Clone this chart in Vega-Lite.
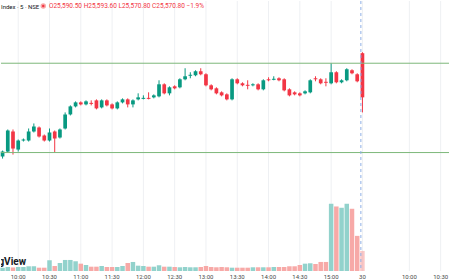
{
  "$schema": "https://vega.github.io/schema/vega-lite/v6.json",
  "width": 450,
  "height": 280,
  "autosize": {"type": "fit", "contains": "padding"},
  "padding": 0,
  "background": "white",
  "config": {
    "view": {"stroke": null},
    "font": "Roboto"
  },
  "title": {"text": "Index · 5 · NSE", "anchor": "start", "frame": "group", "fontSize": 6, "fontWeight": "normal", "color": "#131722", "offset": -9},
  "datasets": {
    "bars": [
      {"t": "09:45", "i": 0, "o": 25487.5, "h": 25493.5, "l": 25485.5, "c": 25492.5, "v": 33},
      {"t": "09:50", "i": 1, "o": 25492.5, "h": 25514.5, "l": 25491.5, "c": 25513.5, "v": 40},
      {"t": "09:55", "i": 2, "o": 25512.5, "h": 25514.5, "l": 25489.5, "c": 25495.5, "v": 35},
      {"t": "10:00", "i": 3, "o": 25494.5, "h": 25504.5, "l": 25492.5, "c": 25503.5, "v": 40},
      {"t": "10:05", "i": 4, "o": 25503.5, "h": 25505.5, "l": 25502.5, "c": 25504.5, "v": 40},
      {"t": "10:10", "i": 5, "o": 25503.5, "h": 25515.5, "l": 25502.5, "c": 25512.5, "v": 47},
      {"t": "10:15", "i": 6, "o": 25512.5, "h": 25520.5, "l": 25511.5, "c": 25517.5, "v": 47},
      {"t": "10:20", "i": 7, "o": 25516.5, "h": 25517.5, "l": 25506.5, "c": 25507.5, "v": 33},
      {"t": "10:25", "i": 8, "o": 25508.5, "h": 25509.5, "l": 25502.5, "c": 25503.5, "v": 33},
      {"t": "10:30", "i": 9, "o": 25503.5, "h": 25515.5, "l": 25502.5, "c": 25511.5, "v": 107},
      {"t": "10:35", "i": 10, "o": 25512.5, "h": 25513.5, "l": 25491.5, "c": 25505.5, "v": 50},
      {"t": "10:40", "i": 11, "o": 25506.5, "h": 25515.5, "l": 25505.5, "c": 25514.5, "v": 80},
      {"t": "10:45", "i": 12, "o": 25515.5, "h": 25531.5, "l": 25514.5, "c": 25529.5, "v": 110},
      {"t": "10:50", "i": 13, "o": 25529.5, "h": 25538.5, "l": 25528.5, "c": 25537.5, "v": 110},
      {"t": "10:55", "i": 14, "o": 25537.5, "h": 25542.5, "l": 25536.5, "c": 25541.5, "v": 97},
      {"t": "11:00", "i": 15, "o": 25541.5, "h": 25542.5, "l": 25538.5, "c": 25539.5, "v": 73},
      {"t": "11:05", "i": 16, "o": 25539.5, "h": 25543.5, "l": 25538.5, "c": 25542.5, "v": 60},
      {"t": "11:10", "i": 17, "o": 25541, "h": 25543.5, "l": 25538.5, "c": 25540, "v": 43},
      {"t": "11:15", "i": 18, "o": 25543.5, "h": 25544.5, "l": 25534.5, "c": 25535.5, "v": 43},
      {"t": "11:20", "i": 19, "o": 25536.5, "h": 25544.5, "l": 25535.5, "c": 25543.5, "v": 50},
      {"t": "11:25", "i": 20, "o": 25543.5, "h": 25544.5, "l": 25537.5, "c": 25538.5, "v": 40},
      {"t": "11:30", "i": 21, "o": 25539.5, "h": 25540.5, "l": 25534.5, "c": 25535.5, "v": 40},
      {"t": "11:35", "i": 22, "o": 25535.5, "h": 25542.5, "l": 25534.5, "c": 25541.5, "v": 40},
      {"t": "11:40", "i": 23, "o": 25541.5, "h": 25545.5, "l": 25540.5, "c": 25544.5, "v": 50},
      {"t": "11:45", "i": 24, "o": 25544.5, "h": 25545.5, "l": 25536.5, "c": 25539.5, "v": 80},
      {"t": "11:50", "i": 25, "o": 25539.5, "h": 25544.5, "l": 25536.5, "c": 25543.5, "v": 90},
      {"t": "11:55", "i": 26, "o": 25544.5, "h": 25550.5, "l": 25543.5, "c": 25546.5, "v": 53},
      {"t": "12:00", "i": 27, "o": 25545, "h": 25548.5, "l": 25544.5, "c": 25546, "v": 50},
      {"t": "12:05", "i": 28, "o": 25546, "h": 25551.5, "l": 25544.5, "c": 25545, "v": 43},
      {"t": "12:10", "i": 29, "o": 25546.5, "h": 25549.5, "l": 25545.5, "c": 25548.5, "v": 43},
      {"t": "12:15", "i": 30, "o": 25547.5, "h": 25563.5, "l": 25546.5, "c": 25559.5, "v": 57},
      {"t": "12:20", "i": 31, "o": 25559.5, "h": 25560.5, "l": 25549.5, "c": 25550.5, "v": 43},
      {"t": "12:25", "i": 32, "o": 25550.5, "h": 25557.5, "l": 25548.5, "c": 25556.5, "v": 43},
      {"t": "12:30", "i": 33, "o": 25557.5, "h": 25558.5, "l": 25554.5, "c": 25555.5, "v": 40},
      {"t": "12:35", "i": 34, "o": 25556.5, "h": 25565.5, "l": 25555.5, "c": 25564.5, "v": 37},
      {"t": "12:40", "i": 35, "o": 25564.5, "h": 25575.5, "l": 25563.5, "c": 25567.5, "v": 40},
      {"t": "12:45", "i": 36, "o": 25568, "h": 25571.5, "l": 25565.5, "c": 25569, "v": 37},
      {"t": "12:50", "i": 37, "o": 25568.5, "h": 25573.5, "l": 25567.5, "c": 25572.5, "v": 37},
      {"t": "12:55", "i": 38, "o": 25572.5, "h": 25575.5, "l": 25568.5, "c": 25569.5, "v": 40},
      {"t": "13:00", "i": 39, "o": 25569.5, "h": 25570.5, "l": 25557.5, "c": 25558.5, "v": 50},
      {"t": "13:05", "i": 40, "o": 25558.5, "h": 25559.5, "l": 25553.5, "c": 25554.5, "v": 40},
      {"t": "13:10", "i": 41, "o": 25555.5, "h": 25556.5, "l": 25549.5, "c": 25550.5, "v": 37},
      {"t": "13:15", "i": 42, "o": 25551.5, "h": 25552.5, "l": 25547.5, "c": 25548.5, "v": 40},
      {"t": "13:20", "i": 43, "o": 25549.5, "h": 25550.5, "l": 25543.5, "c": 25544.5, "v": 37},
      {"t": "13:25", "i": 44, "o": 25544.5, "h": 25565.5, "l": 25543.5, "c": 25564.5, "v": 33},
      {"t": "13:30", "i": 45, "o": 25564.5, "h": 25565.5, "l": 25559.5, "c": 25560.5, "v": 33},
      {"t": "13:35", "i": 46, "o": 25560.5, "h": 25561.5, "l": 25557.5, "c": 25558.5, "v": 33},
      {"t": "13:40", "i": 47, "o": 25559, "h": 25563.5, "l": 25554.5, "c": 25558, "v": 33},
      {"t": "13:45", "i": 48, "o": 25558.5, "h": 25560.5, "l": 25557.5, "c": 25559.5, "v": 37},
      {"t": "13:50", "i": 49, "o": 25559.5, "h": 25560.5, "l": 25553.5, "c": 25554.5, "v": 37},
      {"t": "13:55", "i": 50, "o": 25554.5, "h": 25564.5, "l": 25553.5, "c": 25563.5, "v": 37},
      {"t": "14:00", "i": 51, "o": 25564.5, "h": 25566.5, "l": 25562.5, "c": 25563.5, "v": 37},
      {"t": "14:05", "i": 52, "o": 25564, "h": 25567.5, "l": 25563.5, "c": 25565, "v": 40},
      {"t": "14:10", "i": 53, "o": 25565.5, "h": 25566.5, "l": 25562.5, "c": 25563.5, "v": 40},
      {"t": "14:15", "i": 54, "o": 25564.5, "h": 25565.5, "l": 25552.5, "c": 25553.5, "v": 40},
      {"t": "14:20", "i": 55, "o": 25554.5, "h": 25555.5, "l": 25547.5, "c": 25548.5, "v": 47},
      {"t": "14:25", "i": 56, "o": 25551.5, "h": 25552.5, "l": 25548.5, "c": 25549.5, "v": 47},
      {"t": "14:30", "i": 57, "o": 25550.5, "h": 25551.5, "l": 25547.5, "c": 25548.5, "v": 60},
      {"t": "14:35", "i": 58, "o": 25550.5, "h": 25553.5, "l": 25549.5, "c": 25552.5, "v": 73},
      {"t": "14:40", "i": 59, "o": 25551.5, "h": 25564.5, "l": 25550.5, "c": 25563.5, "v": 77},
      {"t": "14:45", "i": 60, "o": 25565.5, "h": 25567.5, "l": 25562.5, "c": 25564.5, "v": 70},
      {"t": "14:50", "i": 61, "o": 25564.5, "h": 25565.5, "l": 25559.5, "c": 25560.5, "v": 90},
      {"t": "14:55", "i": 62, "o": 25562, "h": 25565.5, "l": 25557.5, "c": 25561, "v": 90},
      {"t": "15:00", "i": 63, "o": 25560.5, "h": 25580.5, "l": 25559.5, "c": 25571.5, "v": 670},
      {"t": "15:05", "i": 64, "o": 25571.5, "h": 25572.5, "l": 25560.5, "c": 25561.5, "v": 643},
      {"t": "15:10", "i": 65, "o": 25561.5, "h": 25564.5, "l": 25560.5, "c": 25563.5, "v": 630},
      {"t": "15:15", "i": 66, "o": 25563.5, "h": 25575.5, "l": 25562.5, "c": 25574.5, "v": 670},
      {"t": "15:20", "i": 67, "o": 25573.5, "h": 25574.5, "l": 25569.5, "c": 25570.5, "v": 620},
      {"t": "15:25", "i": 68, "o": 25569.5, "h": 25570.5, "l": 25561.5, "c": 25562.5, "v": 350},
      {"t": "30 09:15", "i": 69, "o": 25590.5, "h": 25591.5, "l": 25531.5, "c": 25546.5, "v": 200}
    ],
    "ticks": [
      {"k": 3, "lab": "10:00"}, {"k": 9, "lab": "10:30"}, {"k": 15, "lab": "11:00"}, {"k": 21, "lab": "11:30"},
      {"k": 27, "lab": "12:00"}, {"k": 33, "lab": "12:30"}, {"k": 39, "lab": "13:00"}, {"k": 45, "lab": "13:30"},
      {"k": 51, "lab": "14:00"}, {"k": 57, "lab": "14:30"}, {"k": 63, "lab": "15:00"}, {"k": 69, "lab": "30"},
      {"k": 78, "lab": "10:00"}, {"k": 84, "lab": "10:30"}
    ]
  },
  "data": {"name": "bars"},
  "resolve": {"scale": {"y": "independent"}},
  "layer": [
    {
      "data": {"name": "ticks"},
      "mark": {"type": "rule", "color": "#eef0f3", "strokeWidth": 1},
      "encoding": {
        "x": {"field": "k", "type": "quantitative", "scale": {"domain": [-0.3, 85.6], "nice": false, "zero": false, "padding": 0}, "axis": null}
      }
    },
    {
      "data": {"name": "ticks"},
      "mark": {"type": "text", "baseline": "top", "align": "center", "fontSize": 6, "color": "#4a4a4a", "dy": 3},
      "encoding": {
        "x": {"field": "k", "type": "quantitative", "scale": {"domain": [-0.3, 85.6], "nice": false, "zero": false, "padding": 0}, "axis": null},
        "y": {"datum": 0, "type": "quantitative", "scale": {"domain": [0, 2690], "nice": false, "padding": 0}, "axis": null},
        "text": {"field": "lab"}
      }
    },
    {
      "mark": {"type": "bar", "size": 4.5},
      "encoding": {
        "x": {"field": "i", "type": "quantitative", "scale": {"domain": [-0.3, 85.6], "nice": false, "zero": false, "padding": 0}, "axis": null},
        "y": {"field": "v", "type": "quantitative", "scale": {"domain": [0, 2690], "nice": false, "padding": 0}, "axis": null},
        "color": {"condition": {"test": "datum.c >= datum.o", "value": "#92d2cc"}, "value": "#f7a9a7"},
        "opacity": {"condition": {"test": "datum.i == 69", "value": 0.65}, "value": 1}
      }
    },
    {
      "layer": [
        {
          "mark": {"type": "rule", "strokeWidth": 1},
          "encoding": {
            "x": {"field": "i", "type": "quantitative", "scale": {"domain": [-0.3, 85.6], "nice": false, "zero": false, "padding": 0}, "axis": null},
            "y": {"field": "l", "type": "quantitative", "scale": {"domain": [25373.5, 25642.5], "nice": false, "zero": false, "padding": 0}, "axis": null},
            "y2": {"field": "h"},
            "color": {"condition": {"test": "datum.c >= datum.o", "value": "#089981"}, "value": "#f23645"}
          }
        },
        {
          "mark": {"type": "bar", "size": 3.7},
          "encoding": {
            "x": {"field": "i", "type": "quantitative", "scale": {"domain": [-0.3, 85.6], "nice": false, "zero": false, "padding": 0}, "axis": null},
            "y": {"field": "o", "type": "quantitative", "scale": {"domain": [25373.5, 25642.5], "nice": false, "zero": false, "padding": 0}, "axis": null},
            "y2": {"field": "c"},
            "color": {"condition": {"test": "datum.c >= datum.o", "value": "#089981"}, "value": "#f23645"}
          }
        },
        {
          "data": {"values": [{"level": 25580.5}, {"level": 25491.5}]},
          "mark": {"type": "rule", "color": "#7db87a", "strokeWidth": 1},
          "encoding": {
            "y": {"field": "level", "type": "quantitative", "scale": {"domain": [25373.5, 25642.5], "nice": false, "zero": false, "padding": 0}, "axis": null}
          }
        },
        {
          "data": {"values": [{"at": 68.7}]},
          "mark": {"type": "rule", "color": "#8fb0e6", "strokeWidth": 1, "strokeDash": [3, 3]},
          "encoding": {
            "x": {"field": "at", "type": "quantitative", "scale": {"domain": [-0.3, 85.6], "nice": false, "zero": false, "padding": 0}, "axis": null}
          }
        },
        {
          "data": {"values": [{"label": "O25,590.50 H25,593.60 L25,570.80 C25,570.80 −1.9%"}]},
          "mark": {"type": "text", "align": "left", "baseline": "middle", "fontSize": 6.5, "color": "#f23645"},
          "encoding": {
            "x": {"datum": 8.9, "type": "quantitative", "scale": {"domain": [-0.3, 85.6], "nice": false, "zero": false, "padding": 0}, "axis": null},
            "y": {"datum": 25637.5, "type": "quantitative", "scale": {"domain": [25373.5, 25642.5], "nice": false, "zero": false, "padding": 0}, "axis": null},
            "text": {"field": "label"}
          }
        },
        {
          "data": {"values": [{"status": "live"}]},
          "mark": {"type": "point", "filled": true, "size": 30, "color": "#f7a9a7", "opacity": 1},
          "encoding": {
            "x": {"datum": 7.8, "type": "quantitative", "scale": {"domain": [-0.3, 85.6], "nice": false, "zero": false, "padding": 0}, "axis": null},
            "y": {"datum": 25637.5, "type": "quantitative", "scale": {"domain": [25373.5, 25642.5], "nice": false, "zero": false, "padding": 0}, "axis": null}
          }
        },
        {
          "data": {"values": [{"status": "live"}]},
          "mark": {"type": "point", "filled": true, "size": 6, "color": "#f23645", "opacity": 1},
          "encoding": {
            "x": {"datum": 7.8, "type": "quantitative", "scale": {"domain": [-0.3, 85.6], "nice": false, "zero": false, "padding": 0}, "axis": null},
            "y": {"datum": 25637.5, "type": "quantitative", "scale": {"domain": [25373.5, 25642.5], "nice": false, "zero": false, "padding": 0}, "axis": null}
          }
        },
        {
          "data": {"values": [{"brand": "TradingView"}]},
          "mark": {"type": "text", "align": "right", "baseline": "middle", "fontSize": 10, "fontWeight": "bold", "color": "#131722", "clip": true},
          "encoding": {
            "x": {"datum": 4.5, "type": "quantitative", "scale": {"domain": [-0.3, 85.6], "nice": false, "zero": false, "padding": 0}, "axis": null},
            "y": {"datum": 25382, "type": "quantitative", "scale": {"domain": [25373.5, 25642.5], "nice": false, "zero": false, "padding": 0}, "axis": null},
            "text": {"field": "brand"}
          }
        }
      ]
    }
  ]
}
